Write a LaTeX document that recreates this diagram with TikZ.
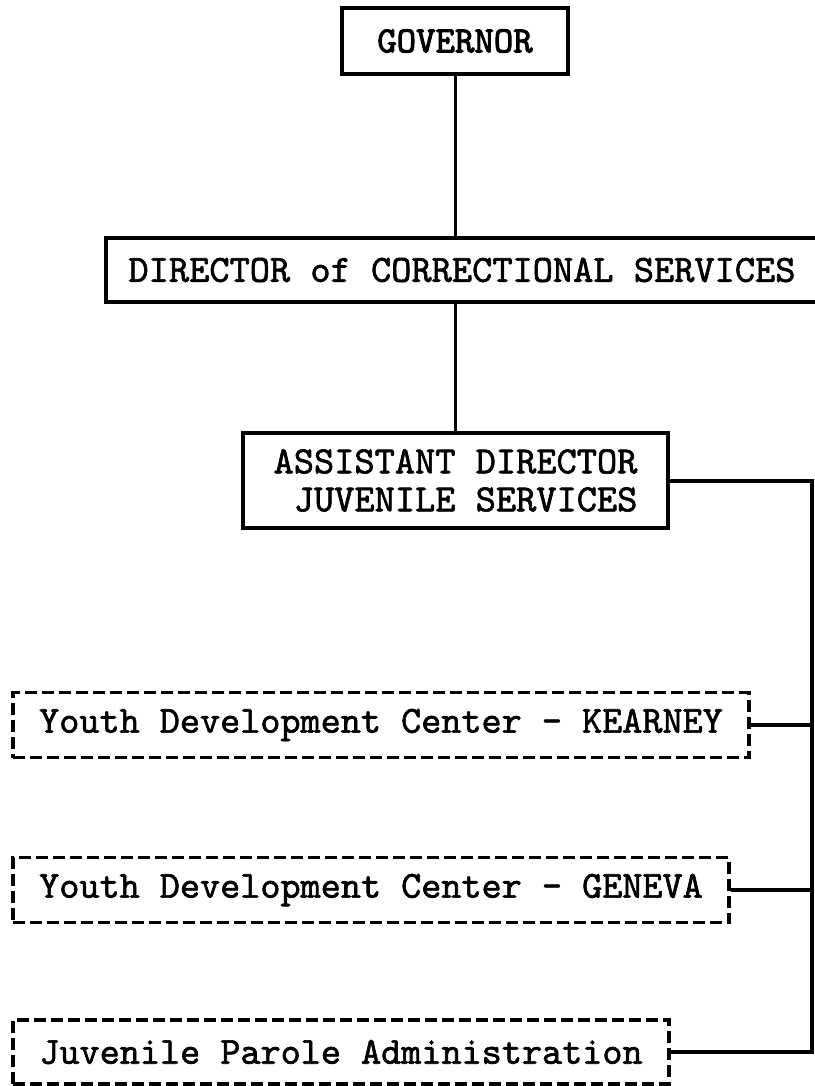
\documentclass[tikz,border=0pt]{standalone}
\usepackage{fontspec}
\newfontfamily\tw[FakeBold=1.6]{lmmono10-regular.otf}
\newfontfamily\twb[FakeBold=2.6]{lmmono10-regular.otf}
\tikzset{
  solidbox/.style={draw=black, line width=3.2pt, rectangle, inner sep=0pt,
    font=\tw\fontsize{38.5}{38}\selectfont, text=black},
  dashbox/.style={draw=black, line width=3.2pt, rectangle, inner sep=0pt,
    dash pattern=on 12pt off 5pt,
    font=\tw\fontsize{38.3}{38}\selectfont, text=black},
  conn/.style={draw=black, line width=4pt},
}
\begin{document}
\begin{tikzpicture}[x=1pt,y=-1pt]
\useasboundingbox (0,0) rectangle (814,1086);
\fill[white] (0,0) rectangle (814,1086);

\node[solidbox, font=\twb\fontsize{37}{38}\selectfont, minimum width=226pt, minimum height=66pt] (gov) at (455,41) {GOVERNOR};
\node[solidbox, minimum width=712pt, minimum height=64pt] (dir) at (462,270) {DIRECTOR of CORRECTIONAL SERVICES};
\node[solidbox, minimum width=425pt, minimum height=95pt, align=left] (asst) at (455.5,480.5)
  {ASSISTANT DIRECTOR\\\hphantom{A}JUVENILE SERVICES};

\node[dashbox, minimum width=736pt, minimum height=65pt] (kear) at (381,725) {Youth Development Center - KEARNEY};
\node[dashbox, minimum width=716pt, minimum height=65pt] (gen) at (371,890) {Youth Development Center - GENEVA};
\node[dashbox, minimum width=656pt, minimum height=64pt] (juv) at (341,1052) {Juvenile Parole Administration};

\coordinate (bus) at (812,0);

\draw[conn, line width=3pt] (gov.south) -- (gov.south |- dir.north);
\draw[conn, line width=3pt] (asst.north |- dir.south) -- (asst.north);
\draw[conn, line cap=rect] (asst.east) -| (bus |- juv.east) -- (juv.east);
\draw[conn] (kear.east) -- (kear.east -| bus);
\draw[conn] (gen.east) -- (gen.east -| bus);
\end{tikzpicture}
\end{document}
